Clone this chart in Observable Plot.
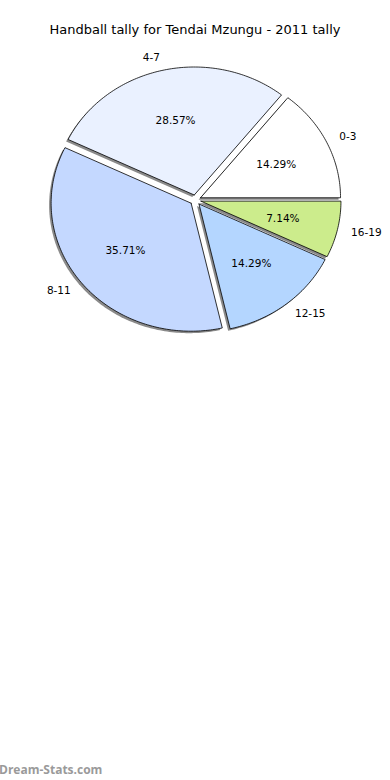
<!DOCTYPE html>
<html>
<head>
<meta charset="utf-8">
<script src="https://cdn.jsdelivr.net/npm/d3@7"></script>
<script src="https://cdn.jsdelivr.net/npm/@observablehq/plot@0.6"></script>
<style>
  html, body { margin: 0; padding: 0; background: #fff; }
  #wrap { width: 390px; height: 780px; position: relative; overflow: hidden; }
  #title { font: 13px "DejaVu Sans", sans-serif; height: 60px; line-height: 60px; text-align: center; color: #000; }
  #mark { font: bold 12px "Open Sans", "DejaVu Sans", sans-serif; height: 20px; line-height: 20px; color: #9a9a9a; margin-left: -1px; }
  svg { display: block; }
</style>
</head>
<body>
<div id="wrap">
  <div id="title">Handball tally for Tendai Mzungu - 2011 tally</div>
  <div id="chart"></div>
  <div id="mark">Dream-Stats.com</div>
</div>
<script>
const categories = ["0-3", "4-7", "8-11", "12-15", "16-19"];
const tallies = [2, 4, 5, 2, 1];
const sliceColors = ["#ffffff", "#eaf1ff", "#c4d8ff", "#b4d6ff", "#ccec8c"];

const EXPLODE = 0.04, LABEL_DIST = 1.1, PCT_DIST = 0.6;
const total = d3.sum(tallies);

// Build slice geometry (unit-circle data coordinates, counterclockwise from 0°)
let acc = 0;
const slices = categories.map((label, i) => {
  const a0 = acc / total * 2 * Math.PI;
  acc += tallies[i];
  const a1 = acc / total * 2 * Math.PI;
  const mid = (a0 + a1) / 2;
  const cx = EXPLODE * Math.cos(mid), cy = EXPLODE * Math.sin(mid);
  return {label, value: tallies[i], color: sliceColors[i], a0, a1, mid, cx, cy,
    pct: (tallies[i] / total * 100).toFixed(2) + "%"};
});

const pts = [];
for (const s of slices) {
  pts.push({label: s.label, color: s.color, x: s.cx, y: s.cy});
  const n = Math.max(2, Math.ceil((s.a1 - s.a0) / (Math.PI / 180)));
  for (let k = 0; k <= n; k++) {
    const a = s.a0 + (s.a1 - s.a0) * k / n;
    pts.push({label: s.label, color: s.color, x: s.cx + Math.cos(a), y: s.cy + Math.sin(a)});
  }
  pts.push({label: s.label, color: s.color, x: s.cx, y: s.cy});
}

const labelPos = slices.map(s => ({
  text: s.label,
  x: s.cx + LABEL_DIST * Math.cos(s.mid),
  y: s.cy + LABEL_DIST * Math.sin(s.mid),
  right: Math.cos(s.mid) >= 0
}));
const pctPos = slices.map(s => ({
  text: s.pct,
  x: s.cx + PCT_DIST * Math.cos(s.mid),
  y: s.cy + PCT_DIST * Math.sin(s.mid)
}));

const chart = Plot.plot({
  width: 390,
  height: 700,
  marginLeft: 55,
  marginRight: 55,
  marginTop: 11.5,
  marginBottom: 432.5,
  x: {domain: [-1, 1], axis: null},
  y: {domain: [-1, 1], axis: null},
  color: {type: "identity"},
  style: {fontFamily: "DejaVu Sans", fontSize: "10.5px", background: "#fff", overflow: "visible"},
  marks: [
    Plot.line(pts, {x: "x", y: "y", z: "label", fill: "#8a8a8a", stroke: "none", dx: -2, dy: 2, curve: "linear"}),
    Plot.line(pts, {x: "x", y: "y", z: "label", fill: "color", stroke: "#000", strokeWidth: 0.8, curve: "linear"}),
    Plot.text(pctPos, {x: "x", y: "y", text: "text", fill: "#000", fontSize: 10.5}),
    Plot.text(labelPos.filter(d => d.right), {x: "x", y: "y", text: "text", textAnchor: "start", fill: "#000", fontSize: 10.5}),
    Plot.text(labelPos.filter(d => !d.right), {x: "x", y: "y", text: "text", textAnchor: "end", fill: "#000", fontSize: 10.5})
  ]
});
document.getElementById("chart").appendChild(chart);
</script>
</body>
</html>
